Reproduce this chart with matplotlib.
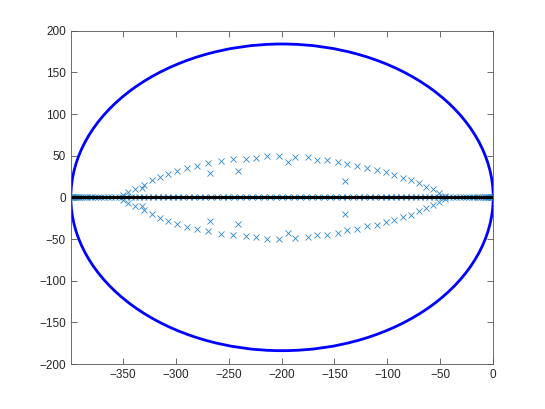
import numpy as np
import matplotlib
matplotlib.use("Agg")
import matplotlib.pyplot as plt
from matplotlib.patches import Ellipse

plt.rcParams['font.family'] = ['Liberation Sans', 'DejaVu Sans']

real_left = [-199.5, -205.2, -210.9, -216.6, -222.2, -227.9, -233.5, -239.1, -244.7,
             -250.2, -255.7, -261.1, -266.5, -271.9, -277.2, -282.4, -287.5, -292.6,
             -297.6, -302.5, -307.4, -312.1, -316.8, -321.3, -325.8, -330.2, -334.4,
             -338.6, -342.6, -346.5, -350.3, -353.9, -357.5, -360.9, -364.2, -367.3,
             -370.4, -373.2, -376.0, -378.6, -381.0, -383.3, -385.4, -387.4, -389.2,
             -390.9, -392.4, -393.8, -395.0, -396.1, -397.0, -397.7, -398.3, -398.7,
             -398.9, -399.0]
real_right = [-193.8, -188.1, -182.4, -176.8, -171.1, -165.5, -159.9, -154.3, -148.8,
              -143.3, -137.9, -132.5, -127.1, -121.8, -116.6, -111.5, -106.4, -101.4,
              -96.5, -91.6, -86.9, -82.2, -77.7, -73.2, -68.8, -64.6, -60.4, -56.4,
              -52.5, -48.7, -45.1, -41.5, -38.1, -34.8, -31.7, -28.6, -25.8, -23.0,
              -20.4, -18.0, -15.7, -13.6, -11.6, -9.8, -8.1, -6.6, -5.2, -4.0, -2.9,
              -2.0, -1.3, -0.7, -0.3, -0.1, 0.0]

# complex eigenvalues (upper half, conjugates plotted below)
arc_re = [-350.0, -344.7, -338.4, -332.0, -329.6, -322.6, -314.8, -306.9, -299.0,
          -289.5, -280.0, -269.1, -257.4, -245.5, -233.8, -224.4, -214.0, -202.0,
          -194.0, -187.0, -175.2, -166.2, -157.3, -146.9, -138.4, -128.4, -118.9,
          -110.0, -101.3, -93.4, -85.5, -77.6, -70.4, -63.5, -56.6, -50.9, -45.5,
          -267.5, -240.8, -140.0]
arc_im = [2.8, 6.7, 10.3, 10.8, 14.8, 20.4, 24.4, 28.0, 31.9,
          35.2, 37.9, 40.8, 43.9, 45.6, 46.3, 47.5, 49.6, 49.6,
          42.7, 48.7, 48.0, 44.8, 44.8, 42.7, 39.6, 37.6, 34.8,
          32.8, 30.0, 26.8, 23.5, 20.6, 16.8, 12.7, 9.6, 5.5, 1.9,
          28.8, 31.9, 19.9]

# ellipse enclosing the spectrum
ell_center = (-199.5, 0.0)
ell_a = 199.5
ell_b = 184.0

# black segment along the real axis
seg_x = [-399.0, 0.0]
seg_y = [0.0, 0.0]

fig = plt.figure(figsize=(5.45, 4.09), dpi=100)
ax = fig.add_axes([0.13, 0.11, 0.775, 0.815])

real_all = real_left + real_right
ax.plot(real_all, np.zeros(len(real_all)), 'x', color='#2f86c8',
        markersize=5, markeredgewidth=0.6)
ax.plot(arc_re, arc_im, 'x', color='#2f86c8', markersize=5, markeredgewidth=0.6)
ax.plot(arc_re, -np.array(arc_im), 'x', color='#2f86c8', markersize=5, markeredgewidth=0.6)
ax.plot(seg_x, seg_y, '-', color='black', linewidth=2.2)

ax.add_patch(Ellipse(ell_center, 2 * ell_a, 2 * ell_b, fill=False,
                     edgecolor='#0000ff', linewidth=2.0))

ax.set_xlim(-399, 0)
ax.set_ylim(-200, 200)
ax.set_xticks(np.arange(-350, 1, 50))
ax.set_yticks(np.arange(-200, 201, 50))

for s in ax.spines.values():
    s.set_color('#555555')
    s.set_linewidth(0.6)
ax.tick_params(direction='in', length=4, width=0.6, colors='#555555',
               labelcolor='#262626', labelsize=8.5, top=True, right=True)

fig.savefig("out.png", dpi=100)
